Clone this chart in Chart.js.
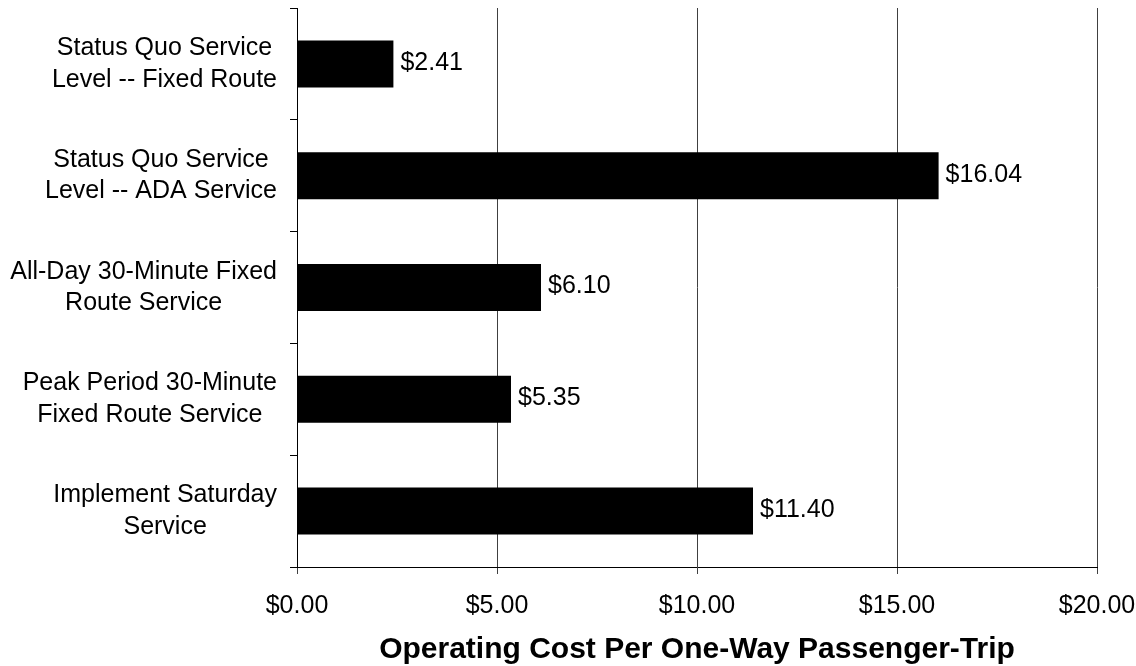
<!DOCTYPE html>
<html>
<head>
<meta charset="utf-8">
<style>
  html, body { margin: 0; padding: 0; background: #fff; }
  #wrap { width: 1136px; height: 666px; }
</style>
<script src="https://cdn.jsdelivr.net/npm/chart.js@4.4.1/dist/chart.umd.min.js"></script>
</head>
<body>
<div id="wrap"><canvas id="costChart" width="1136" height="666"></canvas></div>
<script>
const categories = [
    ["Status Quo Service", "Level -- Fixed Route"],
    ["Status Quo Service", "Level -- ADA Service"],
    ["All-Day 30-Minute Fixed", "Route Service"],
    ["Peak Period 30-Minute", "Fixed Route Service"],
    ["Implement Saturday", "Service"]
];
const costs = [2.41, 16.04, 6.10, 5.35, 11.40];
const xTicks = [0, 5, 10, 15, 20];

const FONT = "'Liberation Sans', Arial, sans-serif";

// category labels: each block centred, right edge of the widest line near the axis
const categoryLabels = {
    id: "categoryLabels",
    afterDraw(chart) {
        const ctx = chart.ctx;
        const yScale = chart.scales.y;
        const rightEdge = chart.chartArea.left - 20;
        ctx.save();
        ctx.font = "25px " + FONT;
        ctx.fillStyle = "#000";
        ctx.textAlign = "center";
        ctx.textBaseline = "middle";
        categories.forEach(function (lines, i) {
            const yc = yScale.getPixelForValue(i);
            let maxW = 0;
            lines.forEach(function (l) { maxW = Math.max(maxW, ctx.measureText(l).width); });
            const xc = rightEdge - maxW / 2;
            const lh = 31.5;
            lines.forEach(function (l, k) {
                ctx.fillText(l, xc, yc + (k - (lines.length - 1) / 2) * lh);
            });
        });
        ctx.restore();
    }
};

// value labels at the end of each bar
const valueLabels = {
    id: "valueLabels",
    afterDatasetsDraw(chart) {
        const ctx = chart.ctx;
        const meta = chart.getDatasetMeta(0);
        ctx.save();
        ctx.font = "25px " + FONT;
        ctx.fillStyle = "#000";
        ctx.textAlign = "left";
        ctx.textBaseline = "middle";
        meta.data.forEach(function (bar, i) {
            ctx.fillText("$" + costs[i].toFixed(2), bar.x + 7, bar.y - 1);
        });
        ctx.restore();
    }
};

new Chart("costChart", {
    type: "bar",
    data: {
        labels: categories,
        datasets: [{
            data: costs,
            backgroundColor: "#000",
            borderWidth: 0,
            categoryPercentage: 1.0,
            barPercentage: 0.42
        }]
    },
    options: {
        indexAxis: "y",
        responsive: false,
        animation: false,
        layout: { padding: { top: 8, right: 39, bottom: 0, left: 0 } },
        plugins: {
            legend: { display: false },
            tooltip: { enabled: false }
        },
        scales: {
            x: {
                min: 0,
                max: 20,
                afterBuildTicks: function (scale) {
                    scale.ticks = xTicks.map(function (v) { return { value: v }; });
                },
                afterFit: function (scale) {
                    scale.height = 99;
                    scale.paddingLeft = 0;
                    scale.paddingRight = 0;
                },
                grid: { color: "#404040", lineWidth: 1, tickLength: 7 },
                border: { color: "#000", width: 1 },
                ticks: {
                    color: "#000",
                    font: { family: FONT, size: 25 },
                    padding: 17,
                    maxRotation: 0,
                    callback: function (v) { return "$" + Number(v).toFixed(2); }
                },
                title: {
                    display: true,
                    text: "Operating Cost Per One-Way Passenger-Trip",
                    color: "#000",
                    font: { family: FONT, size: 30, weight: "bold" },
                    padding: { top: 0, bottom: -2 }
                }
            },
            y: {
                afterFit: function (scale) { scale.width = 297; },
                grid: { offset: true, drawOnChartArea: false, color: "#000", tickLength: 7 },
                border: { color: "#000", width: 1 },
                ticks: { display: false }
            }
        }
    },
    plugins: [categoryLabels, valueLabels]
});
</script>
</body>
</html>
